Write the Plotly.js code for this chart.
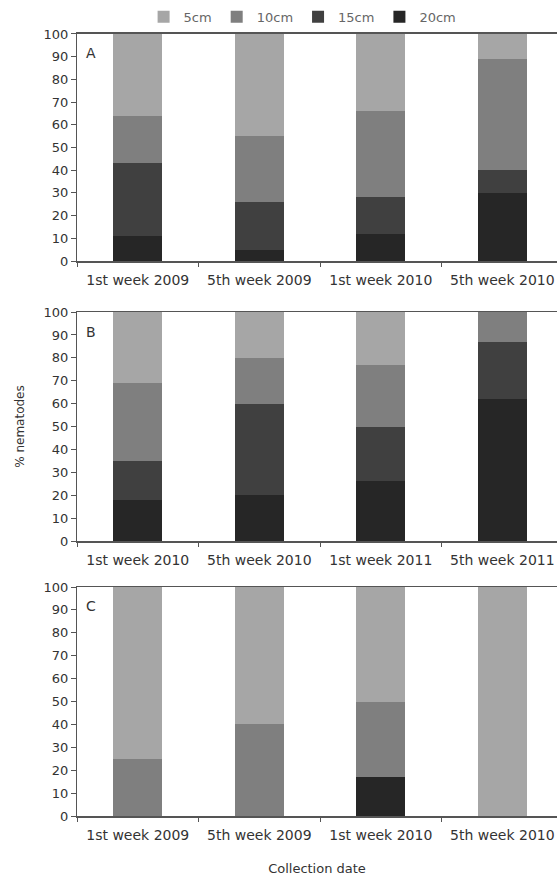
<!DOCTYPE html>
<html>
<head>
<meta charset="utf-8">
<script src="https://cdn.plot.ly/plotly-3.0.1.min.js"></script>
<style>html,body{margin:0;padding:0;background:#fff;overflow:hidden;}</style>
</head>
<body>
<div id="chart" style="width:557px;height:878px;"></div>
<script>
// Categories
var catsA = ["1st week 2009", "5th week 2009", "1st week 2010", "5th week 2010"];
var catsB = ["1st week 2010", "5th week 2010", "1st week 2011", "5th week 2011"];
var catsC = ["1st week 2009", "5th week 2009", "1st week 2010", "5th week 2010"];

// Series names (depths)
var depths = ["20cm", "15cm", "10cm", "5cm"];

// Panel A values (% nematodes per depth)
var A20 = [11, 5, 12, 30];
var A15 = [32, 21, 16, 10];
var A10 = [21, 29, 38, 49];
var A5  = [36, 45, 34, 11];

// Panel B values
var B20 = [18, 20, 26, 62];
var B15 = [17, 40, 24, 25];
var B10 = [34, 20, 27, 13];
var B5  = [31, 20, 23, 0];

// Panel C values
var C20 = [0, 0, 17, 0];
var C15 = [0, 0, 0, 0];
var C10 = [25, 40, 33, 0];
var C5  = [75, 60, 50, 100];

var colors = {"5cm": "#a6a6a6", "10cm": "#7f7f7f", "15cm": "#404040", "20cm": "#262626"};

var panels = [
  {cats: catsA, vals: [A20, A15, A10, A5], xa: "x", ya: "y", legend: true},
  {cats: catsB, vals: [B20, B15, B10, B5], xa: "x2", ya: "y2", legend: false},
  {cats: catsC, vals: [C20, C15, C10, C5], xa: "x3", ya: "y3", legend: false}
];

var traces = [];
panels.forEach(function(p) {
  depths.forEach(function(d, i) {
    traces.push({
      type: "bar",
      name: d,
      x: p.cats,
      y: p.vals[i],
      xaxis: p.xa,
      yaxis: p.ya,
      width: 0.4,
      legendgroup: d,
      showlegend: p.legend,
      marker: {color: colors[d], line: {width: 0}},
      hoverinfo: "skip"
    });
  });
});

var FAM = "DejaVu Sans, Liberation Sans, Arial, sans-serif";
var xTickFont = {family: FAM, size: 14, color: "#333"};
var yTickFont = {family: FAM, size: 13, color: "#333"};

function xAxis(anchor, title) {
  var ax = {
    anchor: anchor,
    domain: [0, 1],
    type: "category",
    range: [-0.5, 3.45],
    tickson: "boundaries",
    ticks: "outside",
    ticklen: 4,
    tickcolor: "#555",
    tickfont: xTickFont,
    ticklabelstandoff: 6,
    showline: true,
    linecolor: "#555",
    linewidth: 1.5,
    mirror: true,
    showgrid: false,
    zeroline: false,
    fixedrange: true
  };
  if (title) {
    ax.title = {text: title, font: {family: FAM, size: 13, color: "#333"}, standoff: 21};
  }
  return ax;
}

function yAxis(anchor, domain, title) {
  var ax = {
    anchor: anchor,
    domain: domain,
    range: [0, 100],
    dtick: 10,
    ticks: "outside",
    ticklen: 5,
    tickcolor: "#555",
    tickfont: yTickFont,
    showline: true,
    linecolor: "#555",
    linewidth: 1,
    showgrid: false,
    zeroline: false,
    fixedrange: true
  };
  if (title) {
    ax.title = {text: title, font: {family: FAM, size: 12, color: "#333"}, standoff: 16};
  }
  return ax;
}

var layout = {
  width: 557,
  height: 878,
  margin: {l: 77, r: 0, t: 0, b: 0},
  paper_bgcolor: "#fff",
  plot_bgcolor: "#fff",
  barmode: "stack",
  bargap: 0.6,
  showlegend: true,
  legend: {
    orientation: "h",
    x: 0.47,
    xanchor: "center",
    y: 0.981,
    yanchor: "middle",
    traceorder: "reversed",
    font: {family: FAM, size: 13, color: "#666"},
    itemwidth: 30
  },
  xaxis: xAxis("y", null),
  yaxis: yAxis("x", [0.7027, 0.9613], null),
  xaxis2: xAxis("y2", null),
  yaxis2: yAxis("x2", [0.3838, 0.6446], "% nematodes"),
  xaxis3: xAxis("y3", "Collection date"),
  yaxis3: yAxis("x3", [0.0706, 0.3314], null),
  annotations: [
    {text: "A", xref: "x domain", yref: "y domain", x: 0.015, y: 0.915, xanchor: "left", yanchor: "middle", showarrow: false, font: {family: FAM, size: 14, color: "#333"}},
    {text: "B", xref: "x2 domain", yref: "y2 domain", x: 0.015, y: 0.915, xanchor: "left", yanchor: "middle", showarrow: false, font: {family: FAM, size: 14, color: "#333"}},
    {text: "C", xref: "x3 domain", yref: "y3 domain", x: 0.015, y: 0.915, xanchor: "left", yanchor: "middle", showarrow: false, font: {family: FAM, size: 14, color: "#333"}}
  ]
};

Plotly.newPlot("chart", traces, layout, {displayModeBar: false, staticPlot: true});
</script>
</body>
</html>
